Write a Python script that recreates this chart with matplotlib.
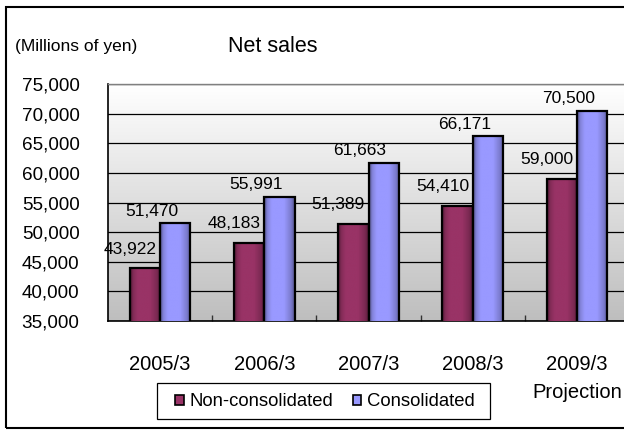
import numpy as np
import matplotlib
matplotlib.use("Agg")
import matplotlib.pyplot as plt
from matplotlib.patches import Patch, Rectangle
from matplotlib.colors import to_rgb

categories = ["2005/3", "2006/3", "2007/3", "2008/3", "2009/3\nProjection"]
non_consolidated = [43922, 48183, 51389, 54410, 59000]
consolidated = [51470, 55991, 61663, 66171, 70500]
series_names = ["Non-consolidated", "Consolidated"]
y_ticks = [35000, 40000, 45000, 50000, 55000, 60000, 65000, 70000, 75000]

plt.rcParams['font.family'] = ['Liberation Sans', 'DejaVu Sans']

W, H = 624, 430
fig = plt.figure(figsize=(W / 100, H / 100), dpi=100)

# axes placement (plot area extends past right edge like the reference)
left, right, bottom, top = 108, 629, 321, 84
ax = fig.add_axes([left / W, 1 - bottom / H, (right - left) / W, (bottom - top) / H])

x = np.arange(len(categories))
bw = 0.29
maroon = "#993366"
blue = "#9999FF"
ymin, ymax = y_ticks[0], y_ticks[-1]
ax.set_xlim(-0.5, len(categories) - 0.5)
ax.set_ylim(ymin, ymax)

# background gradient (wall)
grad = np.linspace(0, 1, 256).reshape(-1, 1)
top_c = np.array(to_rgb("#FFFFFF"))
bot_c = np.array(to_rgb("#BEBEBE"))
img = top_c[None, None, :] * (1 - grad[:, :, None]) + bot_c[None, None, :] * grad[:, :, None]
ax.imshow(img, extent=[0, 1, 0, 1], transform=ax.transAxes, aspect='auto', zorder=0)


def shade(color):
    t = np.linspace(0, 1, 64)
    f = np.interp(t, [0, 0.1, 0.25, 0.65, 0.88, 1.0], [0.5, 0.85, 1.0, 1.0, 0.8, 0.55])
    c = np.array(to_rgb(color))
    row = np.clip(c[None, :] * f[:, None], 0, 1)
    return row[None, :, :]


def gradient_bars(xs, vals, color, z):
    bars = ax.bar(xs, vals, bw, color='none', edgecolor='black', linewidth=1.6, zorder=z + 0.2)
    g = shade(color)
    for r in bars:
        x0, w, h = r.get_x(), r.get_width(), r.get_height()
        y0 = max(r.get_y(), ymin)
        ax.imshow(g, extent=[x0, x0 + w, y0, h], aspect='auto', zorder=z,
                  interpolation='bilinear')
    return bars


b1 = gradient_bars(x - bw / 2, non_consolidated, maroon, 3)
b2 = gradient_bars(x + bw / 2, consolidated, blue, 3.5)

# data labels
for xi, v in zip(x - bw / 2, non_consolidated):
    ax.annotate(f"{v:,}", (xi, v), xytext=(-10.8, 13.7), textcoords='offset points',
                ha='center', va='center', fontsize=12.5, zorder=3.3)
for xi, v in zip(x + bw / 2, consolidated):
    ax.annotate(f"{v:,}", (xi, v), xytext=(-17, 8.8), textcoords='offset points',
                ha='center', va='center', fontsize=12.5, zorder=5)

ax.set_xlim(-0.5, len(categories) - 0.5)
ax.set_ylim(ymin, ymax)
ax.set_yticks(y_ticks)
ax.set_yticklabels([f"{v:,}" for v in y_ticks], fontsize=13.6)
ax.tick_params(axis='y', length=0, pad=20.5)
ax.yaxis.grid(True, color='black', linewidth=0.9, zorder=1)
ax.set_axisbelow(True)

ax.set_xticks(x)
ax.set_xticklabels(categories, fontsize=14.5)
ax.tick_params(axis='x', which='major', length=0, pad=24.5)
for lab in ax.get_xticklabels():
    lab.set_linespacing(1.6)
ax.set_xticks(np.arange(0.5, len(categories) - 0.5, 1), minor=True)
ax.tick_params(axis='x', which='minor', direction='in', length=4.5, width=1, color='#333333')

for s in ['left', 'bottom']:
    ax.spines[s].set_color('black')
    ax.spines[s].set_linewidth(1.2)
ax.spines['top'].set_color('#808080')
ax.spines['top'].set_linewidth(1.0)
ax.spines['right'].set_visible(False)

# titles
fig.text(273 / W, 1 - 47 / H, "Net sales", fontsize=15.5, ha='center', va='center')
fig.text(15 / W, 1 - 47 / H, "(Millions of yen)", fontsize=12.5, ha='left', va='center')

# legend (items from the library; box drawn as its own frame)
handles = [Patch(facecolor=maroon, edgecolor='black', linewidth=1.2),
           Patch(facecolor=blue, edgecolor='black', linewidth=1.2)]
leg = fig.legend(handles, series_names, loc='center',
                 bbox_to_anchor=(325 / W, 1 - 402 / H), ncol=2, fontsize=13.3,
                 handlelength=0.45, handleheight=0.5, handletextpad=0.3,
                 columnspacing=1.1, borderpad=0.3, fancybox=False, frameon=False)
fig.patches.append(Rectangle((157 / W, 1 - 419 / H), (490 - 157) / W, 36 / H,
                             transform=fig.transFigure, fill=False,
                             edgecolor='black', linewidth=0.9))

# outer chart frame (right side runs past the image edge)
fig.patches.append(Rectangle((6 / W, 2 / H), 1.2, 1 - 9 / H, transform=fig.transFigure,
                             fill=False, edgecolor='black', linewidth=1.5))

fig.savefig("out.png", dpi=100)
